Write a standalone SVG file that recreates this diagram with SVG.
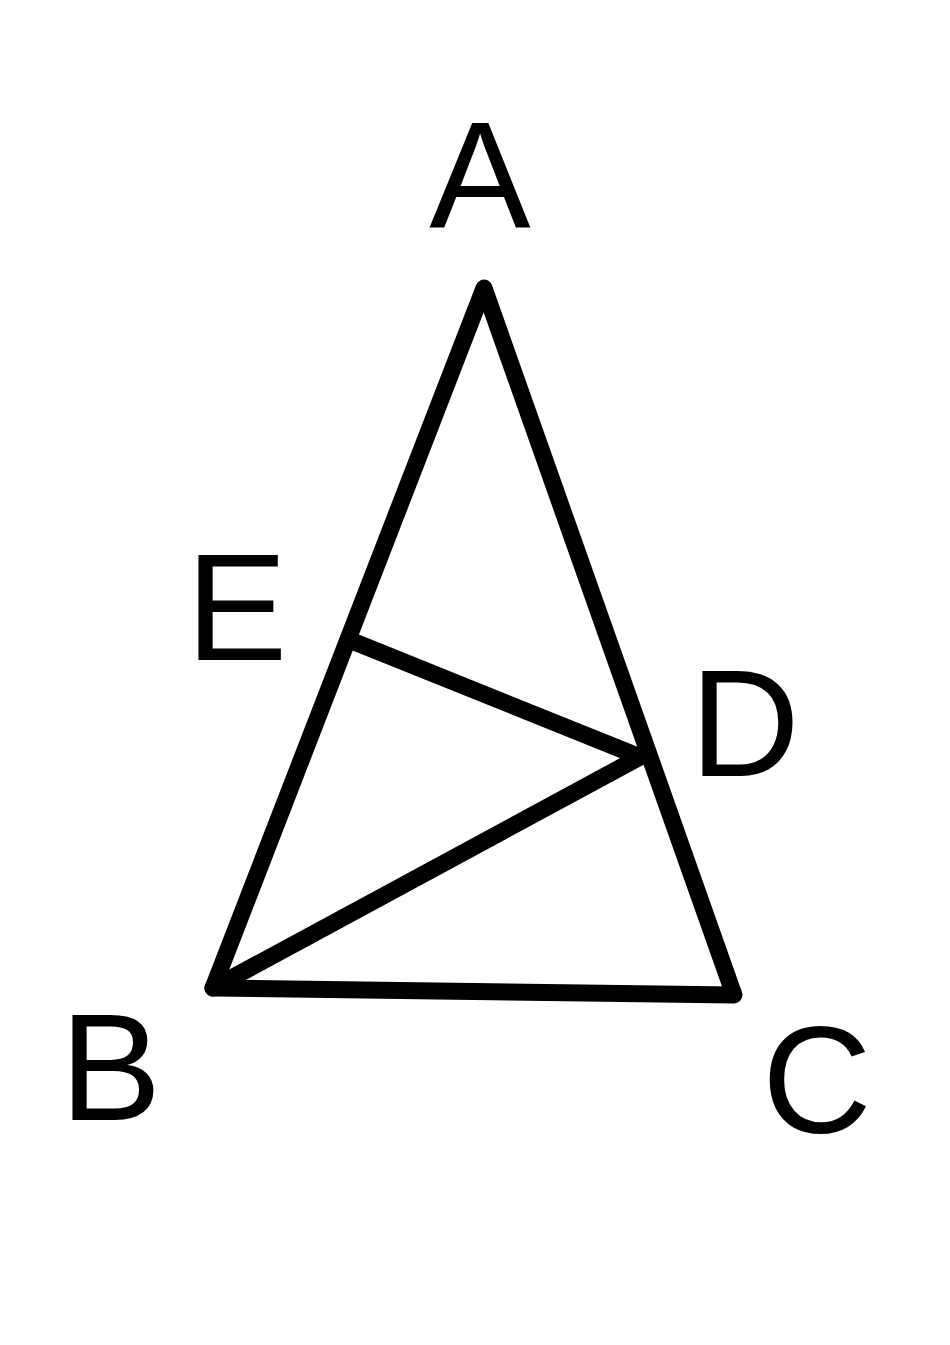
<svg xmlns="http://www.w3.org/2000/svg" width="950" height="1345" viewBox="0 0 950 1345">
<style>
.lbl{font-family:"Liberation Sans",Arial,sans-serif;font-size:152px;fill:#000}
.ln{stroke:#000;stroke-width:17;stroke-linecap:round;stroke-linejoin:round;fill:none}
</style>
<rect width="950" height="1345" fill="#fff"/>
<g id="connectors">
<polygon class="ln" points="484,288 213,988 734,995"/>
<line class="ln" x1="352" y1="641" x2="640" y2="757"/>
<line class="ln" x1="213" y1="988" x2="640" y2="757"/>
</g>
<g id="A"><text class="lbl" x="480" y="228" text-anchor="middle">A</text></g>
<g id="E"><text class="lbl" x="186" y="660">E</text></g>
<g id="D"><text class="lbl" x="690" y="776">D</text></g>
<g id="B"><text class="lbl" x="60" y="1120">B</text></g>
<g id="C"><text class="lbl" x="762" y="1133">C</text></g>
</svg>
